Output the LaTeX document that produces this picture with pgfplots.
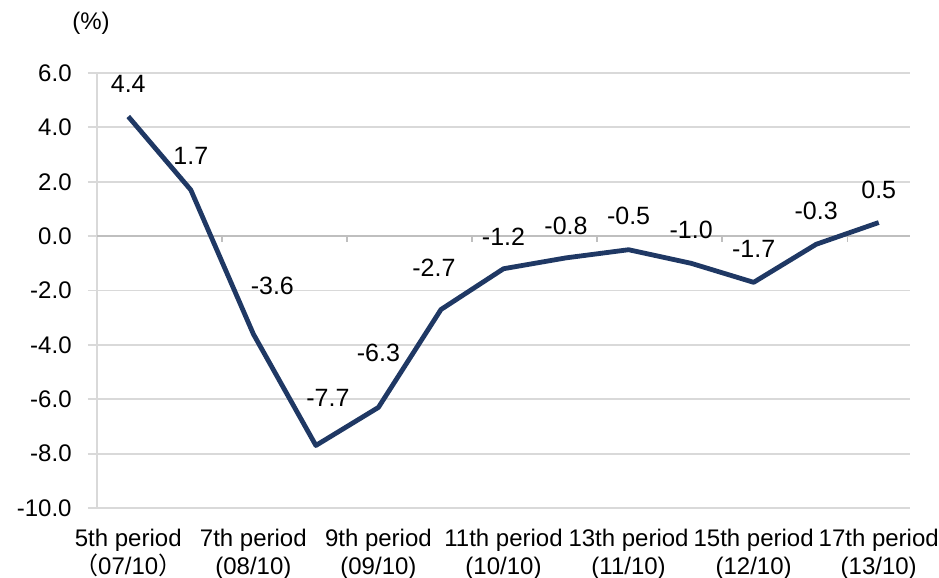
\documentclass[border=0pt]{standalone}
\usepackage{pgfplots}
\pgfplotsset{compat=1.18}
\usepackage{pgfplotstable}
\usepackage{fontspec}
\setmainfont{Liberation Sans}
\newfontfamily\cjk{Noto Sans CJK JP}
\definecolor{navy}{RGB}{31,56,100}
\definecolor{gridc}{RGB}{217,217,217}
\definecolor{zeroc}{RGB}{191,191,191}
\pgfplotstableread{
x y sx sy
0 4.4 0 16.5
1 1.7 0 17
2 -3.6 9.5 24
3 -7.7 6 24
4 -6.3 0 27.5
5 -2.7 -3.5 21
6 -1.2 0 16
7 -0.8 0 16
8 -0.5 0 17
9 -1.0 0 16.5
10 -1.7 0 16.5
11 -0.3 0 16.5
12 0.5 0 16.5
}\datatable
\begin{document}
\begin{tikzpicture}
\begin{axis}[
  at={(0,0)}, anchor=south west,
  scale only axis, width=406.5pt, height=217.5pt,
  xmin=-0.5, xmax=12.5, ymin=-10, ymax=6,
  ytick={-10,-8,...,6},
  xtick={0,2,...,12},
  xticklabels={{5th period\\{\cjk （}07/10{\cjk ）}},{7th period\\(08/10)},{9th period\\(09/10)},{11th period\\(10/10)},{13th period\\(11/10)},{15th period\\(12/10)},{17th period\\(13/10)}},
  /pgf/number format/assume math mode=true,
  yticklabel={\pgfmathprintnumber[fixed,fixed zerofill,precision=1]{\tick}},
  ymajorgrids, grid style={draw=gridc, line width=0.9pt},
  axis y line*=left, axis x line*=bottom,
  x axis line style={draw=none},
  y axis line style={draw=gridc, line width=0.9pt},
  tick align=outside, major tick length=4.5pt,
  ytick style={draw=gridc, line width=0.9pt},
  xtick style={draw=none},
  yticklabel style={font=\fontsize{12}{14}\selectfont, anchor=east, inner sep=0pt, xshift=-8pt},
  xticklabel style={font=\fontsize{12}{14}\selectfont, align=center, anchor=north, inner sep=0pt, yshift=-6pt},
  clip=false,
]
\draw[zeroc, line width=0.9pt] (axis cs:-0.5,0) -- (axis cs:12.5,0);
\pgfplotsinvokeforeach{1.5,3.5,5.5,7.5,9.5,11.5}{
  \draw[zeroc, line width=0.9pt] (axis cs:#1,0) -- ([yshift=-3pt]axis cs:#1,0);
}
\addplot[navy, line width=2.4pt, line join=round, mark=none,
  nodes near coords,
  point meta=explicit,
  visualization depends on={\thisrow{sx} \as \myshx},
  visualization depends on={\thisrow{sy} \as \myshy},
  nodes near coords={\pgfmathprintnumber[fixed,fixed zerofill,precision=1]{\pgfplotspointmeta}},
  every node near coord/.append style={anchor=center, xshift=\myshx pt, yshift=\myshy pt, font=\fontsize{12.5}{14}\selectfont, text=black, inner sep=0pt},
] table[x=x, y=y, meta=y] {\datatable};
\node[font=\fontsize{12}{14}\selectfont] at (axis description cs:-0.0074,1.115) {(\%)};
\end{axis}
\pgfresetboundingbox
\path[use as bounding box] (-48.5pt,-35pt) rectangle (421pt,254pt);
\end{tikzpicture}
\end{document}
